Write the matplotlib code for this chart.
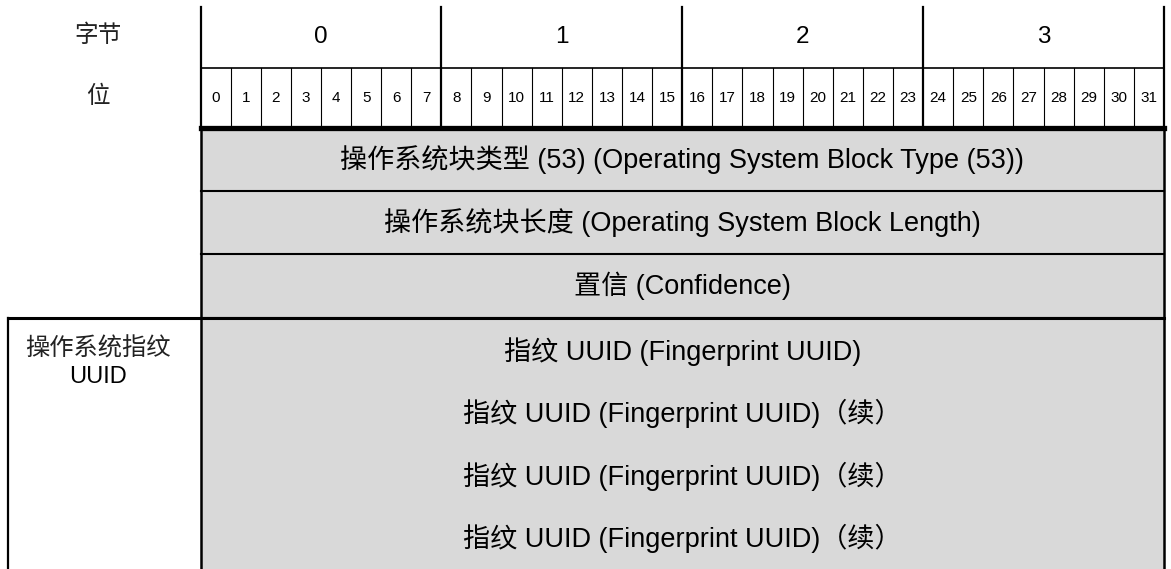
import matplotlib
matplotlib.use('Agg')
import matplotlib.pyplot as plt
from matplotlib.patches import Rectangle

plt.rcParams['font.family'] = ['Liberation Sans', 'Noto Sans CJK SC', 'DejaVu Sans']

# header data
byte_labels = ['0', '1', '2', '3']
bit_labels = [str(i) for i in range(32)]
head_labels = ['字节', '位']

# field rows (full 32 bit wide)
field_rows = ['操作系统块类型 (53) (Operating System Block Type (53))',
              '操作系统块长度 (Operating System Block Length)',
              '置信 (Confidence)']
uuid_rows = ['指纹 UUID (Fingerprint UUID)',
             '指纹 UUID (Fingerprint UUID)（续）',
             '指纹 UUID (Fingerprint UUID)（续）',
             '指纹 UUID (Fingerprint UUID)（续）']
group_label = '操作系统指纹'
group_label2 = 'UUID'

# layout in pixels
W, H = 1171, 569
x0, x1 = 200.5, 1164
cw = (x1 - x0) / 32
y_top, y_byte, y_bits = 7, 68, 128
row_h = [63, 63, 64]
uuid_h = 62.5
gray = '#d9d9d9'
fs_main = 19.5

fig = plt.figure(figsize=(W / 100, H / 100), dpi=100)
ax = fig.add_axes([0, 0, 1, 1])
ax.set_xlim(0, W)
ax.set_ylim(H, 0)
ax.axis('off')

# header texts
ax.text(98, 36, head_labels[0], ha='center', va='center', fontsize=17, color='#222222')
ax.text(98, 97, head_labels[1], ha='center', va='center', fontsize=17, color='#222222')
for i, b in enumerate(byte_labels):
    ax.text(x0 + (i * 8 + 4) * cw, 37, b, ha='center', va='center', fontsize=17.5)
for i, b in enumerate(bit_labels):
    ax.text(x0 + (i + 0.5) * cw, 98, b, ha='center', va='center', fontsize=11)

# header lines
ax.plot([x0, x1], [y_byte, y_byte], color='black', lw=1.2)
for i in range(1, 32):
    if i % 8 == 0:
        continue
    ax.plot([x0 + i * cw] * 2, [y_byte, y_bits], color='black', lw=0.8)
for i in range(0, 33, 8):
    ax.plot([x0 + i * cw] * 2, [y_top, y_bits], color='black', lw=1.6)

# field rows
y = y_bits
for txt, h in zip(field_rows, row_h):
    ax.add_patch(Rectangle((x0, y), x1 - x0, h, facecolor=gray, edgecolor='none'))
    ax.text((x0 + x1) / 2, y + h / 2, txt, ha='center', va='center', fontsize=fs_main)
    y += h
    ax.plot([x0, x1], [y, y], color='black', lw=1.5)

# uuid block
y_u = y
ax.add_patch(Rectangle((x0, y_u), x1 - x0, H - y_u + 5, facecolor=gray, edgecolor='none'))
for i, txt in enumerate(uuid_rows):
    ax.text((x0 + x1) / 2, y_u + (i + 0.5) * uuid_h + 2, txt, ha='center', va='center', fontsize=fs_main)
ax.plot([8, x1], [y_u, y_u], color='black', lw=2.2)
ax.plot([8, 8], [y_u, H + 5], color='black', lw=1.6)
ax.text(98, 349, group_label, ha='center', va='center', fontsize=17.5, color='#222222')
ax.text(98, 377, group_label2, ha='center', va='center', fontsize=17)

# outer verticals and thick header rule
ax.plot([x0, x0], [y_bits, H + 5], color='black', lw=1.8)
ax.plot([x1, x1], [y_bits, H + 5], color='black', lw=1.8)
ax.plot([x0, x1], [y_bits, y_bits], color='black', lw=3.8)

fig.savefig('out.png', dpi=100)
